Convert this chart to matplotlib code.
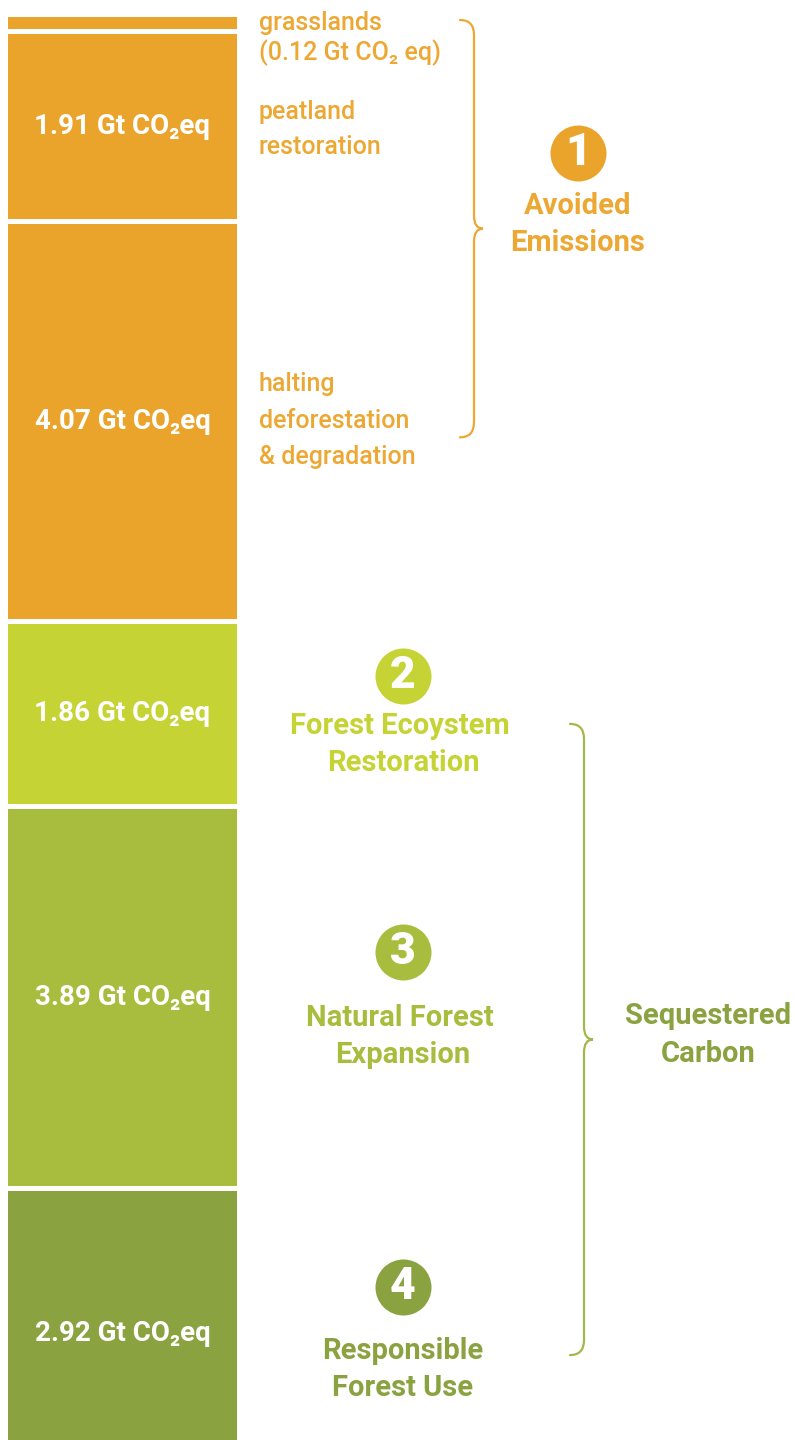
import numpy as np
import matplotlib.pyplot as plt
from matplotlib.path import Path
from matplotlib.patches import PathPatch

plt.rcParams['font.family'] = ['Roboto', 'DejaVu Sans']

# stacked mitigation potential, Gt CO2eq per year, top to bottom
segments = ['grasslands', 'peatland restoration', 'halting deforestation & degradation',
            'forest ecosystem restoration', 'natural forest expansion', 'responsible forest use']
values = [0.12, 1.91, 4.07, 1.86, 3.89, 2.92]
colors = ['#EBA42B', '#EBA42B', '#EBA42B', '#C5D335', '#A8BC3E', '#8AA23F']

ORANGE = '#EDA733'
LIME = '#C5D335'
GREEN = '#A8BC3E'
DARK = '#8AA23F'

PX = 97          # pixels per Gt
GAP = 5 / PX     # white gap between blocks
TOP = 17         # top margin in pixels

vals = np.array(values)
starts = np.concatenate([[0], np.cumsum(vals + GAP)[:-1]])
mids = starts + vals / 2


def gy(p):
    # pixel offset -> Gt offset
    return p / PX


fig = plt.figure(figsize=(7.95, 14.4), dpi=100)
ax = fig.add_axes([0, 0, 1, 1])
ax.set_xlim(0, 795)
ax.set_ylim((1440 - TOP) / PX, -TOP / PX)
ax.axis('off')

BAR_X = 122.5
ax.bar(BAR_X, vals, width=229, bottom=starts, color=colors, linewidth=0)

# value labels inside the blocks
for v, m in zip(vals[1:], mids[1:]):
    ax.text(BAR_X, m, f'{v:.2f} Gt CO₂eq', color='white', fontsize=20,
            fontweight='bold', ha='center', va='center')

# orange side notes
side = dict(color=ORANGE, fontsize=18, fontweight='medium', ha='left', va='center')
ax.text(259, starts[0] + gy(6), 'grasslands', **side)
ax.text(259, starts[0] + gy(36), f'(0.12 Gt CO₂ eq)', **side)
ax.text(259, mids[1] - gy(14), 'peatland', **side)
ax.text(259, mids[1] + gy(21), 'restoration', **side)
ax.text(259, mids[2] - gy(37), 'halting', **side)
ax.text(259, mids[2], 'deforestation', **side)
ax.text(259, mids[2] + gy(36), '& degradation', **side)


def brace(x, y0, y1, color, r=14, tip=9):
    rv = gy(15)
    th = gy(13)
    ym = (y0 + y1) / 2
    verts = [(x - r, y0), (x, y0), (x, y0 + rv),
             (x, ym - th), (x, ym), (x + tip, ym),
             (x, ym), (x, ym + th),
             (x, y1 - rv), (x, y1), (x - r, y1)]
    codes = [Path.MOVETO, Path.CURVE3, Path.CURVE3,
             Path.LINETO, Path.CURVE3, Path.CURVE3,
             Path.CURVE3, Path.CURVE3,
             Path.LINETO, Path.CURVE3, Path.CURVE3]
    ax.add_patch(PathPatch(Path(verts, codes), fill=False, edgecolor=color,
                           linewidth=1.6, capstyle='round'))
    return ym


def badge(x, y, num, color):
    ax.scatter([x], [y], s=(56 * 0.72) ** 2, color=color, linewidths=0, zorder=3)
    ax.text(x, y, num, color='white', fontsize=32, fontweight='black',
            ha='center', va='center', zorder=4)


title = dict(fontsize=21, fontweight='bold', ha='center', va='center')

# avoided emissions group
ym1 = brace(474, starts[0] + gy(3), mids[2] + gy(16), ORANGE)
badge(578, ym1 - gy(76), '1', '#EBA42B')
ax.text(578, ym1 - gy(23), 'Avoided', color=ORANGE, **title)
ax.text(578, ym1 + gy(14), 'Emissions', color=ORANGE, **title)

# sequestered carbon group
ym2 = brace(584, mids[3] + gy(10), mids[5] + gy(22), '#A3B84A')
ax.text(708, ym2 - gy(23), 'Sequestered', color=DARK, **title)
ax.text(708, ym2 + gy(15), 'Carbon', color=DARK, **title)

badge(403, mids[3] - gy(38), '2', LIME)
ax.text(400, mids[3] + gy(12), 'Forest Ecoystem', color=LIME, **title)
ax.text(403, mids[3] + gy(49), 'Restoration', color=LIME, **title)

badge(403, mids[4] - gy(46), '3', GREEN)
ax.text(400, mids[4] + gy(20), 'Natural Forest', color=GREEN, **title)
ax.text(403, mids[4] + gy(57), 'Expansion', color=GREEN, **title)

badge(403, mids[5] - gy(46), '4', DARK)
ax.text(403, mids[5] + gy(18), 'Responsible', color=DARK, **title)
ax.text(403, mids[5] + gy(55), 'Forest Use', color=DARK, **title)

fig.savefig('out.png', dpi=100, facecolor='white')
